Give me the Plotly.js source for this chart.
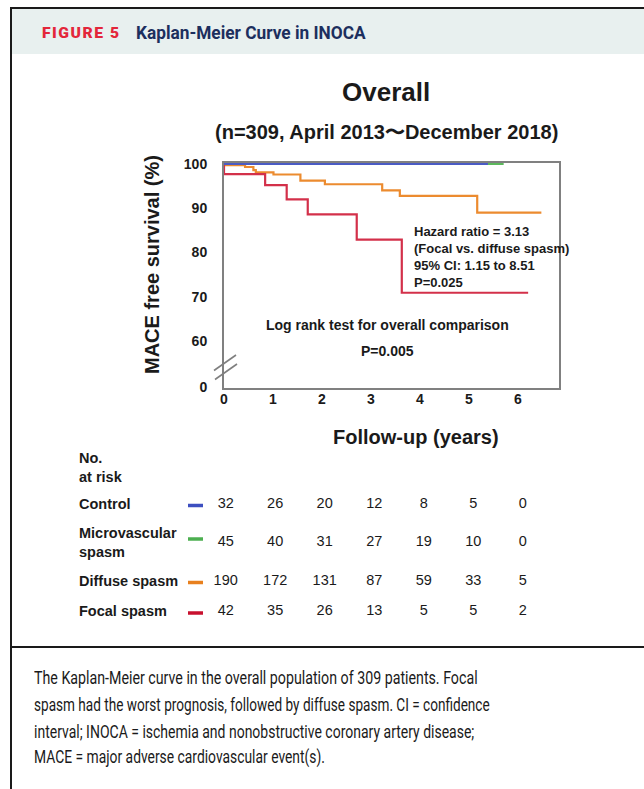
<!DOCTYPE html>
<html><head><meta charset="utf-8">
<script src="https://cdn.plot.ly/plotly-3.0.1.min.js"></script>
<style>
html,body{margin:0;padding:0;background:#fff;}
#page{position:relative;width:644px;height:789px;overflow:hidden;}
#frameL{position:absolute;left:10px;top:7px;width:2px;height:782px;background:#1a1a1a;}
#frameT{position:absolute;left:10px;top:7px;width:634px;height:2px;background:#1a1a1a;}
#head{position:absolute;left:12px;top:9px;width:632px;height:45px;background:#e8f0ef;}
#sep{position:absolute;left:10px;top:646px;width:634px;height:2px;background:#1a1a1a;}
.fit{position:absolute;white-space:nowrap;transform-origin:0 50%;line-height:20px;height:20px;}
#chart{position:absolute;left:0;top:0;width:644px;height:789px;}
</style></head>
<body>
<div id="page">
  <div id="head"></div>
  <div id="frameL"></div>
  <div id="frameT"></div>
  <div id="sep"></div>
  <div class="fit" data-w="79" style="left:42px;top:23px;font-family:Roboto,sans-serif;font-weight:900;font-size:15.5px;letter-spacing:1.5px;color:#e3263a;">FIGURE 5</div>
  <div class="fit" data-w="230" style="left:136px;top:23px;font-family:Roboto,sans-serif;font-weight:700;font-size:17.5px;color:#1c2f5e;">Kaplan-Meier Curve in INOCA</div>
  <div class="fit" data-w="444" style="left:34px;top:668px;font-family:Roboto,sans-serif;font-size:18px;color:#1a1a1a;">The Kaplan-Meier curve in the overall population of 309 patients. Focal</div>
  <div class="fit" data-w="456" style="left:34px;top:695px;font-family:Roboto,sans-serif;font-size:18px;color:#1a1a1a;">spasm had the worst prognosis, followed by diffuse spasm. CI = confidence</div>
  <div class="fit" data-w="440" style="left:34px;top:721.5px;font-family:Roboto,sans-serif;font-size:18px;color:#1a1a1a;">interval; INOCA = ischemia and nonobstructive coronary artery disease;</div>
  <div class="fit" data-w="291" style="left:34px;top:747px;font-family:Roboto,sans-serif;font-size:18px;color:#1a1a1a;">MACE = major adverse cardiovascular event(s).</div>
  <div id="chart"></div>
</div>
<script>
// ---------------- DATA ----------------
const years = [0, 1, 2, 3, 4, 5, 6];
const controlT = [0, 5.39];
const controlS = [100, 100];
const microT = [0, 5.71];
const microS = [100, 100];
const diffuseT = [0, 0.43, 0.60, 0.65, 1.01, 1.56, 2.06, 3.23, 3.59, 5.17, 6.48];
const diffuseS = [99.7, 99.3, 98.6, 98.1, 97.6, 96.2, 95.4, 94.0, 92.8, 89.0, 89.0];
const focalT = [0, 0, 0.84, 1.28, 1.71, 2.71, 3.63, 6.21];
const focalS = [100, 97.7, 95.2, 92.0, 88.6, 82.9, 70.9, 70.9];
const groupNames = ['Control', 'Microvascular<br>spasm', 'Diffuse spasm', 'Focal spasm'];
const riskControl = [32, 26, 20, 12, 8, 5, 0];
const riskMicro = [45, 40, 31, 27, 19, 10, 0];
const riskDiffuse = [190, 172, 131, 87, 59, 33, 5];
const riskFocal = [42, 35, 26, 13, 5, 5, 2];
const yTickVals = [49.5, 60, 70, 80, 90, 100];
const yTickText = ['0', '60', '70', '80', '90', '100'];

// ---------------- LAYOUT HELPERS ----------------
const W = 644, H = 789;
const px = v => v / W;
const py = v => 1 - v / H;
const FONT = 'Liberation Sans, Arial, sans-serif';
const DARK = '#1a1a1a';
const curveColors = ['#4a5bc4', '#5cb85c', '#ec8b2f', '#d3304a'];
const dashColors = ['#3d4fc0', '#4caf50', '#e8801e', '#c8102e'];
const rowY = [504, 542.5, 581, 611];
const dashY = [505.5, 539, 582.5, 613];

const lineTrace = (x, y, c) => ({
  x: x, y: y, type: 'scatter', mode: 'lines', line: {shape: 'hv', color: c, width: 2.2},
  xaxis: 'x', yaxis: 'y', hoverinfo: 'skip', showlegend: false
});
const traces = [
  lineTrace(diffuseT, diffuseS, curveColors[2]),
  lineTrace(focalT, focalS, curveColors[3]),
  lineTrace(microT, microS, curveColors[1]),
  lineTrace(controlT, controlS, curveColors[0])
];

const risks = [riskControl, riskMicro, riskDiffuse, riskFocal];
risks.forEach((r, i) => {
  traces.push({
    x: years, y: years.map(() => rowY[i]), text: r.map(String), type: 'scatter', mode: 'text',
    textposition: 'middle center', textfont: {family: FONT, size: 14.5, color: DARK},
    xaxis: 'x2', yaxis: 'y2', hoverinfo: 'skip', showlegend: false, cliponaxis: false
  });
});

const axisFont = {family: FONT, size: 14, color: DARK, weight: 'bold'};
const annotations = [
  {text: 'Overall', x: px(386.5), y: py(92), font: {family: FONT, size: 26, color: DARK, weight: 'bold'}},
  {text: '(n=309, April 2013〜December 2018)', x: px(386), y: py(132), font: {family: FONT, size: 20, color: DARK, weight: 'bold'}},
  {text: 'Follow-up (years)', x: px(415.5), y: py(437), font: {family: FONT, size: 20, color: DARK, weight: 'bold'}},
  {text: 'MACE free survival (%)', x: px(152), y: py(265), textangle: -90, font: {family: FONT, size: 20, color: DARK, weight: 'bold'}},
  {text: 'Hazard ratio = 3.13<br>(Focal vs. diffuse spasm)<br>95% CI: 1.15 to 8.51<br>P=0.025', x: px(412), y: py(256.5), xanchor: 'left', align: 'left', font: {family: FONT, size: 13, color: DARK, weight: 'bold'}},
  {text: 'Log rank test for overall comparison', x: px(387.7), y: py(325), font: {family: FONT, size: 14, color: DARK, weight: 'bold'}},
  {text: 'P=0.005', x: px(387.5), y: py(351), font: {family: FONT, size: 14, color: DARK, weight: 'bold'}},
  {text: 'No.<br>at risk', x: px(77), y: py(467.5), xanchor: 'left', align: 'left', font: {family: FONT, size: 14.5, color: DARK, weight: 'bold'}}
];
groupNames.forEach((g, i) => {
  annotations.push({text: g, x: px(77), y: py(rowY[i]), xanchor: 'left', align: 'left',
    font: {family: FONT, size: 14.5, color: DARK, weight: 'bold'}});
});
annotations.forEach(a => { a.xref = 'paper'; a.yref = 'paper'; a.showarrow = false; if (!a.xanchor) a.xanchor = 'center'; a.yanchor = 'middle'; });

const shapes = [];
dashY.forEach((y, i) => {
  shapes.push({type: 'line', xref: 'paper', yref: 'paper', x0: px(188), x1: px(203), y0: py(y), y1: py(y), line: {color: dashColors[i], width: 3.5}});
});
// axis break marks
shapes.push({type: 'line', xref: 'paper', yref: 'paper', x0: px(214), y0: py(370.5), x1: px(236), y1: py(355), line: {color: '#7f7f7f', width: 1.6}});
shapes.push({type: 'line', xref: 'paper', yref: 'paper', x0: px(215), y0: py(379.5), x1: px(237), y1: py(364), line: {color: '#7f7f7f', width: 1.6}});

const layout = {
  width: W, height: H, margin: {l: 0, r: 0, t: 0, b: 0},
  paper_bgcolor: 'rgba(0,0,0,0)', plot_bgcolor: 'rgba(0,0,0,0)',
  showlegend: false,
  xaxis: {domain: [px(224), px(559)], range: [0, 6.84], tickvals: years, ticktext: years.map(String),
    showline: true, mirror: true, linecolor: '#808080', linewidth: 2, showgrid: false, zeroline: false,
    ticks: '', ticklabelstandoff: -3, tickfont: axisFont, anchor: 'y', fixedrange: true},
  yaxis: {domain: [py(388), py(163)], range: [49.4, 100.2], tickvals: yTickVals, ticktext: yTickText,
    showline: true, mirror: true, linecolor: '#808080', linewidth: 2, showgrid: false, zeroline: false,
    ticks: '', ticklabelstandoff: 12, tickfont: axisFont, anchor: 'x', fixedrange: true},
  xaxis2: {domain: [px(224), px(559)], range: [-0.034, 6.733], visible: false, anchor: 'y2', fixedrange: true},
  yaxis2: {domain: [0, 1], range: [H, 0], visible: false, anchor: 'x2', fixedrange: true},
  annotations: annotations, shapes: shapes
};
Plotly.newPlot('chart', traces, layout, {displayModeBar: false, staticPlot: true});

// fit text widths
document.querySelectorAll('.fit').forEach(el => {
  const w = parseFloat(el.dataset.w);
  const m = el.scrollWidth;
  if (m > 0) el.style.transform = 'scaleX(' + (w / m) + ')';
});
</script>
</body></html>
